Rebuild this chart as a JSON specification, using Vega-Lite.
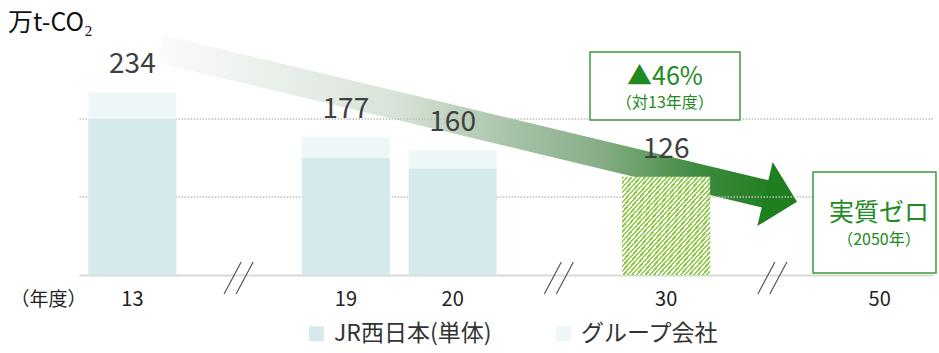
{
  "$schema": "https://vega.github.io/schema/vega-lite/v6.json",
  "width": 854,
  "height": 273,
  "autosize": {"type": "none"},
  "padding": {"left": 79, "top": 2, "right": 6, "bottom": 78},
  "config": {
    "view": {"stroke": null},
    "font": "Noto Sans CJK JP"
  },
  "resolve": {"scale": {"x": "independent"}},
  "layer": [
    {
      "layer": [
        {
          "data": {"values": [{"x": 1.259, "v": 290}, {"x": 6.973, "v": 102.6}]},
          "mark": {
            "type": "line",
            "strokeWidth": 28,
            "strokeCap": "butt",
            "stroke": {
              "gradient": "linear", "x1": 0, "y1": 0, "x2": 1, "y2": 0,
              "stops": [
                {"offset": 0, "color": "#fafbfa"},
                {"offset": 0.12, "color": "#f0f4f0"},
                {"offset": 0.39, "color": "#d8e3d8"},
                {"offset": 0.56, "color": "#abc5ab"},
                {"offset": 0.72, "color": "#87ad87"},
                {"offset": 0.885, "color": "#3f8b3f"},
                {"offset": 1, "color": "#217f21"}
              ]
            }
          },
          "encoding": {
            "x": {"field": "x", "type": "quantitative", "scale": {"domain": [0.5, 8.5], "nice": false, "zero": false}, "axis": null},
            "y": {"field": "v", "type": "quantitative", "scale": {"domain": [0, 350], "nice": false}, "axis": null}
          }
        },
        {
          "data": {"values": [{"x": 6.926, "v": 103.8}]},
          "mark": {"type": "point", "shape": "M 1 0 L 0 -1 L 0 1 Z", "size": 4356, "angle": 13.5, "filled": true, "color": "#1f7f1f", "opacity": 1, "strokeWidth": 0},
          "encoding": {
            "x": {"field": "x", "type": "quantitative", "scale": {"domain": [0.5, 8.5], "nice": false, "zero": false}, "axis": null},
            "y": {"field": "v", "type": "quantitative", "scale": {"domain": [0, 350], "nice": false}, "axis": null}
          }
        }
      ]
    },
    {
      "layer": [
        {
          "data": {"values": [{"v": 100}, {"v": 200}]},
          "mark": {"type": "rule", "color": "#bfbfbf", "strokeWidth": 1.5, "strokeDash": [1.5, 1.5]},
          "encoding": {
            "y": {"field": "v", "type": "quantitative", "scale": {"domain": [0, 350], "nice": false}, "axis": null}
          }
        },
        {
          "data": {"values": [
            {"yr": "13", "s": "JR西日本(単体)", "v": 200},
            {"yr": "13", "s": "グループ会社", "v": 34},
            {"yr": "19", "s": "JR西日本(単体)", "v": 150},
            {"yr": "19", "s": "グループ会社", "v": 27},
            {"yr": "20", "s": "JR西日本(単体)", "v": 137},
            {"yr": "20", "s": "グループ会社", "v": 23}
          ]},
          "mark": {"type": "bar"},
          "encoding": {
            "x": {"field": "yr", "type": "nominal", "sort": null,
              "scale": {"domain": ["13", "b1", "19", "20", "b2", "30", "b3", "50"], "paddingInner": 0.175, "paddingOuter": 0.0875},
              "axis": {"orient": "bottom", "title": "（年度）", "labelExpr": "indexof(datum.value,'b')==0 ? '' : datum.value", "ticks": false, "tickSize": 0, "labelAngle": 0, "labelFontSize": 20, "labelColor": "#222222", "labelPadding": 24, "labelBaseline": "middle", "domainColor": "#d9d9d9", "domainWidth": 2, "grid": false, "titleX": -31, "titleY": 24, "titleAlign": "center", "titleBaseline": "middle", "titleFontSize": 19, "titleFontWeight": "normal", "titleColor": "#222222"}},
            "y": {"field": "v", "type": "quantitative", "scale": {"domain": [0, 350], "nice": false}, "axis": null},
            "order": {"field": "s", "sort": "ascending"},
            "color": {"field": "s", "type": "nominal",
              "scale": {"domain": ["JR西日本(単体)", "グループ会社"], "range": ["#d6eaed", "#eef7f7"]},
              "legend": {"title": null, "orient": "none", "legendX": 226, "legendY": 320, "direction": "horizontal", "symbolType": "square", "symbolSize": 225, "symbolStrokeWidth": 0, "labelFontSize": 23, "labelColor": "#333333", "labelOffset": 6, "columnPadding": 60, "padding": 0}}
          }
        },
        {
          "data": {"values": [{"yr": "30", "v": 126}]},
          "mark": {"type": "bar", "color": {
            "gradient": "linear", "x1": 0, "y1": 0, "x2": 1, "y2": 1,
            "stops": [
              {"offset": 0, "color": "#8fcf48"},
              {"offset": 0.0125, "color": "#8fcf48"}, {"offset": 0.0125, "color": "#ffffff"},
              {"offset": 0.025, "color": "#ffffff"}, {"offset": 0.025, "color": "#8fcf48"},
              {"offset": 0.0375, "color": "#8fcf48"}, {"offset": 0.0375, "color": "#ffffff"},
              {"offset": 0.05, "color": "#ffffff"}, {"offset": 0.05, "color": "#8fcf48"},
              {"offset": 0.0625, "color": "#8fcf48"}, {"offset": 0.0625, "color": "#ffffff"},
              {"offset": 0.075, "color": "#ffffff"}, {"offset": 0.075, "color": "#8fcf48"},
              {"offset": 0.0875, "color": "#8fcf48"}, {"offset": 0.0875, "color": "#ffffff"},
              {"offset": 0.1, "color": "#ffffff"}, {"offset": 0.1, "color": "#8fcf48"},
              {"offset": 0.1125, "color": "#8fcf48"}, {"offset": 0.1125, "color": "#ffffff"},
              {"offset": 0.125, "color": "#ffffff"}, {"offset": 0.125, "color": "#8fcf48"},
              {"offset": 0.1375, "color": "#8fcf48"}, {"offset": 0.1375, "color": "#ffffff"},
              {"offset": 0.15, "color": "#ffffff"}, {"offset": 0.15, "color": "#8fcf48"},
              {"offset": 0.1625, "color": "#8fcf48"}, {"offset": 0.1625, "color": "#ffffff"},
              {"offset": 0.175, "color": "#ffffff"}, {"offset": 0.175, "color": "#8fcf48"},
              {"offset": 0.1875, "color": "#8fcf48"}, {"offset": 0.1875, "color": "#ffffff"},
              {"offset": 0.2, "color": "#ffffff"}, {"offset": 0.2, "color": "#8fcf48"},
              {"offset": 0.2125, "color": "#8fcf48"}, {"offset": 0.2125, "color": "#ffffff"},
              {"offset": 0.225, "color": "#ffffff"}, {"offset": 0.225, "color": "#8fcf48"},
              {"offset": 0.2375, "color": "#8fcf48"}, {"offset": 0.2375, "color": "#ffffff"},
              {"offset": 0.25, "color": "#ffffff"}, {"offset": 0.25, "color": "#8fcf48"},
              {"offset": 0.2625, "color": "#8fcf48"}, {"offset": 0.2625, "color": "#ffffff"},
              {"offset": 0.275, "color": "#ffffff"}, {"offset": 0.275, "color": "#8fcf48"},
              {"offset": 0.2875, "color": "#8fcf48"}, {"offset": 0.2875, "color": "#ffffff"},
              {"offset": 0.3, "color": "#ffffff"}, {"offset": 0.3, "color": "#8fcf48"},
              {"offset": 0.3125, "color": "#8fcf48"}, {"offset": 0.3125, "color": "#ffffff"},
              {"offset": 0.325, "color": "#ffffff"}, {"offset": 0.325, "color": "#8fcf48"},
              {"offset": 0.3375, "color": "#8fcf48"}, {"offset": 0.3375, "color": "#ffffff"},
              {"offset": 0.35, "color": "#ffffff"}, {"offset": 0.35, "color": "#8fcf48"},
              {"offset": 0.3625, "color": "#8fcf48"}, {"offset": 0.3625, "color": "#ffffff"},
              {"offset": 0.375, "color": "#ffffff"}, {"offset": 0.375, "color": "#8fcf48"},
              {"offset": 0.3875, "color": "#8fcf48"}, {"offset": 0.3875, "color": "#ffffff"},
              {"offset": 0.4, "color": "#ffffff"}, {"offset": 0.4, "color": "#8fcf48"},
              {"offset": 0.4125, "color": "#8fcf48"}, {"offset": 0.4125, "color": "#ffffff"},
              {"offset": 0.425, "color": "#ffffff"}, {"offset": 0.425, "color": "#8fcf48"},
              {"offset": 0.4375, "color": "#8fcf48"}, {"offset": 0.4375, "color": "#ffffff"},
              {"offset": 0.45, "color": "#ffffff"}, {"offset": 0.45, "color": "#8fcf48"},
              {"offset": 0.4625, "color": "#8fcf48"}, {"offset": 0.4625, "color": "#ffffff"},
              {"offset": 0.475, "color": "#ffffff"}, {"offset": 0.475, "color": "#8fcf48"},
              {"offset": 0.4875, "color": "#8fcf48"}, {"offset": 0.4875, "color": "#ffffff"},
              {"offset": 0.5, "color": "#ffffff"}, {"offset": 0.5, "color": "#8fcf48"},
              {"offset": 0.5125, "color": "#8fcf48"}, {"offset": 0.5125, "color": "#ffffff"},
              {"offset": 0.525, "color": "#ffffff"}, {"offset": 0.525, "color": "#8fcf48"},
              {"offset": 0.5375, "color": "#8fcf48"}, {"offset": 0.5375, "color": "#ffffff"},
              {"offset": 0.55, "color": "#ffffff"}, {"offset": 0.55, "color": "#8fcf48"},
              {"offset": 0.5625, "color": "#8fcf48"}, {"offset": 0.5625, "color": "#ffffff"},
              {"offset": 0.575, "color": "#ffffff"}, {"offset": 0.575, "color": "#8fcf48"},
              {"offset": 0.5875, "color": "#8fcf48"}, {"offset": 0.5875, "color": "#ffffff"},
              {"offset": 0.6, "color": "#ffffff"}, {"offset": 0.6, "color": "#8fcf48"},
              {"offset": 0.6125, "color": "#8fcf48"}, {"offset": 0.6125, "color": "#ffffff"},
              {"offset": 0.625, "color": "#ffffff"}, {"offset": 0.625, "color": "#8fcf48"},
              {"offset": 0.6375, "color": "#8fcf48"}, {"offset": 0.6375, "color": "#ffffff"},
              {"offset": 0.65, "color": "#ffffff"}, {"offset": 0.65, "color": "#8fcf48"},
              {"offset": 0.6625, "color": "#8fcf48"}, {"offset": 0.6625, "color": "#ffffff"},
              {"offset": 0.675, "color": "#ffffff"}, {"offset": 0.675, "color": "#8fcf48"},
              {"offset": 0.6875, "color": "#8fcf48"}, {"offset": 0.6875, "color": "#ffffff"},
              {"offset": 0.7, "color": "#ffffff"}, {"offset": 0.7, "color": "#8fcf48"},
              {"offset": 0.7125, "color": "#8fcf48"}, {"offset": 0.7125, "color": "#ffffff"},
              {"offset": 0.725, "color": "#ffffff"}, {"offset": 0.725, "color": "#8fcf48"},
              {"offset": 0.7375, "color": "#8fcf48"}, {"offset": 0.7375, "color": "#ffffff"},
              {"offset": 0.75, "color": "#ffffff"}, {"offset": 0.75, "color": "#8fcf48"},
              {"offset": 0.7625, "color": "#8fcf48"}, {"offset": 0.7625, "color": "#ffffff"},
              {"offset": 0.775, "color": "#ffffff"}, {"offset": 0.775, "color": "#8fcf48"},
              {"offset": 0.7875, "color": "#8fcf48"}, {"offset": 0.7875, "color": "#ffffff"},
              {"offset": 0.8, "color": "#ffffff"}, {"offset": 0.8, "color": "#8fcf48"},
              {"offset": 0.8125, "color": "#8fcf48"}, {"offset": 0.8125, "color": "#ffffff"},
              {"offset": 0.825, "color": "#ffffff"}, {"offset": 0.825, "color": "#8fcf48"},
              {"offset": 0.8375, "color": "#8fcf48"}, {"offset": 0.8375, "color": "#ffffff"},
              {"offset": 0.85, "color": "#ffffff"}, {"offset": 0.85, "color": "#8fcf48"},
              {"offset": 0.8625, "color": "#8fcf48"}, {"offset": 0.8625, "color": "#ffffff"},
              {"offset": 0.875, "color": "#ffffff"}, {"offset": 0.875, "color": "#8fcf48"},
              {"offset": 0.8875, "color": "#8fcf48"}, {"offset": 0.8875, "color": "#ffffff"},
              {"offset": 0.9, "color": "#ffffff"}, {"offset": 0.9, "color": "#8fcf48"},
              {"offset": 0.9125, "color": "#8fcf48"}, {"offset": 0.9125, "color": "#ffffff"},
              {"offset": 0.925, "color": "#ffffff"}, {"offset": 0.925, "color": "#8fcf48"},
              {"offset": 0.9375, "color": "#8fcf48"}, {"offset": 0.9375, "color": "#ffffff"},
              {"offset": 0.95, "color": "#ffffff"}, {"offset": 0.95, "color": "#8fcf48"},
              {"offset": 0.9625, "color": "#8fcf48"}, {"offset": 0.9625, "color": "#ffffff"},
              {"offset": 0.975, "color": "#ffffff"}, {"offset": 0.975, "color": "#8fcf48"},
              {"offset": 0.9875, "color": "#8fcf48"}, {"offset": 0.9875, "color": "#ffffff"},
              {"offset": 1, "color": "#ffffff"}
            ]
          }},
          "encoding": {
            "x": {"field": "yr", "type": "nominal", "sort": null,
              "scale": {"domain": ["13", "b1", "19", "20", "b2", "30", "b3", "50"], "paddingInner": 0.175, "paddingOuter": 0.0875},
              "axis": {"orient": "bottom", "title": "（年度）", "labelExpr": "indexof(datum.value,'b')==0 ? '' : datum.value", "ticks": false, "tickSize": 0, "labelAngle": 0, "labelFontSize": 20, "labelColor": "#222222", "labelPadding": 24, "labelBaseline": "middle", "domainColor": "#d9d9d9", "domainWidth": 2, "grid": false, "titleX": -31, "titleY": 24, "titleAlign": "center", "titleBaseline": "middle", "titleFontSize": 19, "titleFontWeight": "normal", "titleColor": "#222222"}},
            "y": {"field": "v", "type": "quantitative", "scale": {"domain": [0, 350], "nice": false}, "axis": null}
          }
        },
        {
          "data": {"values": [{"yr": "13", "v": 234}, {"yr": "19", "v": 177}, {"yr": "20", "v": 160}, {"yr": "30", "v": 126}]},
          "mark": {"type": "text", "fontSize": 28, "color": "#404040", "baseline": "alphabetic", "dy": -19},
          "encoding": {
            "x": {"field": "yr", "type": "nominal", "sort": null,
              "scale": {"domain": ["13", "b1", "19", "20", "b2", "30", "b3", "50"], "paddingInner": 0.175, "paddingOuter": 0.0875},
              "axis": {"orient": "bottom", "title": "（年度）", "labelExpr": "indexof(datum.value,'b')==0 ? '' : datum.value", "ticks": false, "tickSize": 0, "labelAngle": 0, "labelFontSize": 20, "labelColor": "#222222", "labelPadding": 24, "labelBaseline": "middle", "domainColor": "#d9d9d9", "domainWidth": 2, "grid": false, "titleX": -31, "titleY": 24, "titleAlign": "center", "titleBaseline": "middle", "titleFontSize": 19, "titleFontWeight": "normal", "titleColor": "#222222"}},
            "y": {"field": "v", "type": "quantitative", "scale": {"domain": [0, 350], "nice": false}, "axis": null},
            "text": {"field": "v", "type": "quantitative"}
          }
        },
        {
          "data": {"values": [{"yr": "b1", "v": 0}, {"yr": "b2", "v": 0}, {"yr": "b3", "v": 0}]},
          "mark": {"type": "point", "shape": "M 0.125 -0.81 L -0.94 1.19 M 0.875 -0.81 L -0.19 1.19", "size": 1024, "filled": false, "stroke": "#555555", "strokeWidth": 1.2, "opacity": 1},
          "encoding": {
            "x": {"field": "yr", "type": "nominal", "sort": null,
              "scale": {"domain": ["13", "b1", "19", "20", "b2", "30", "b3", "50"], "paddingInner": 0.175, "paddingOuter": 0.0875},
              "axis": {"orient": "bottom", "title": "（年度）", "labelExpr": "indexof(datum.value,'b')==0 ? '' : datum.value", "ticks": false, "tickSize": 0, "labelAngle": 0, "labelFontSize": 20, "labelColor": "#222222", "labelPadding": 24, "labelBaseline": "middle", "domainColor": "#d9d9d9", "domainWidth": 2, "grid": false, "titleX": -31, "titleY": 24, "titleAlign": "center", "titleBaseline": "middle", "titleFontSize": 19, "titleFontWeight": "normal", "titleColor": "#222222"}},
            "y": {"field": "v", "type": "quantitative", "scale": {"domain": [0, 350], "nice": false}, "axis": null}
          }
        }
      ]
    },
    {
      "layer": [
        {
          "data": {"values": [
            {"x": 5.287, "x2": 6.692, "v": 285.9, "v2": 198.7},
            {"x": 7.376, "x2": 8.528, "v": 132.1, "v2": 2.6}
          ]},
          "mark": {"type": "rect", "fill": "#ffffff", "stroke": "#3d9b3d", "strokeWidth": 1.5},
          "encoding": {
            "x": {"field": "x", "type": "quantitative", "scale": {"domain": [0.5, 8.5], "nice": false, "zero": false}, "axis": null},
            "x2": {"field": "x2"},
            "y": {"field": "v", "type": "quantitative", "scale": {"domain": [0, 350], "nice": false}, "axis": null},
            "y2": {"field": "v2"}
          }
        },
        {
          "data": {"values": [
            {"x": 5.989, "v": 253.8, "t": "▲46%"},
            {"x": 7.994, "v": 79.5, "t": "実質ゼロ"}
          ]},
          "mark": {"type": "text", "fontSize": 25, "color": "#218a21", "baseline": "middle", "align": "center"},
          "encoding": {
            "x": {"field": "x", "type": "quantitative", "scale": {"domain": [0.5, 8.5], "nice": false, "zero": false}, "axis": null},
            "y": {"field": "v", "type": "quantitative", "scale": {"domain": [0, 350], "nice": false}, "axis": null},
            "text": {"field": "t"}
          }
        },
        {
          "data": {"values": [
            {"x": 5.989, "v": 220.5, "t": "（対13年度）"},
            {"x": 7.994, "v": 44.9, "t": "（2050年）"}
          ]},
          "mark": {"type": "text", "fontSize": 16, "color": "#218a21", "baseline": "middle", "align": "center"},
          "encoding": {
            "x": {"field": "x", "type": "quantitative", "scale": {"domain": [0.5, 8.5], "nice": false, "zero": false}, "axis": null},
            "y": {"field": "v", "type": "quantitative", "scale": {"domain": [0, 350], "nice": false}, "axis": null},
            "text": {"field": "t"}
          }
        },
        {
          "data": {"values": [{"x": -0.165, "v": 323, "t": "万t-CO₂"}]},
          "mark": {"type": "text", "fontSize": 25, "color": "#111111", "baseline": "middle", "align": "left"},
          "encoding": {
            "x": {"field": "x", "type": "quantitative", "scale": {"domain": [0.5, 8.5], "nice": false, "zero": false}, "axis": null},
            "y": {"field": "v", "type": "quantitative", "scale": {"domain": [0, 350], "nice": false}, "axis": null},
            "text": {"field": "t"}
          }
        }
      ]
    }
  ]
}
